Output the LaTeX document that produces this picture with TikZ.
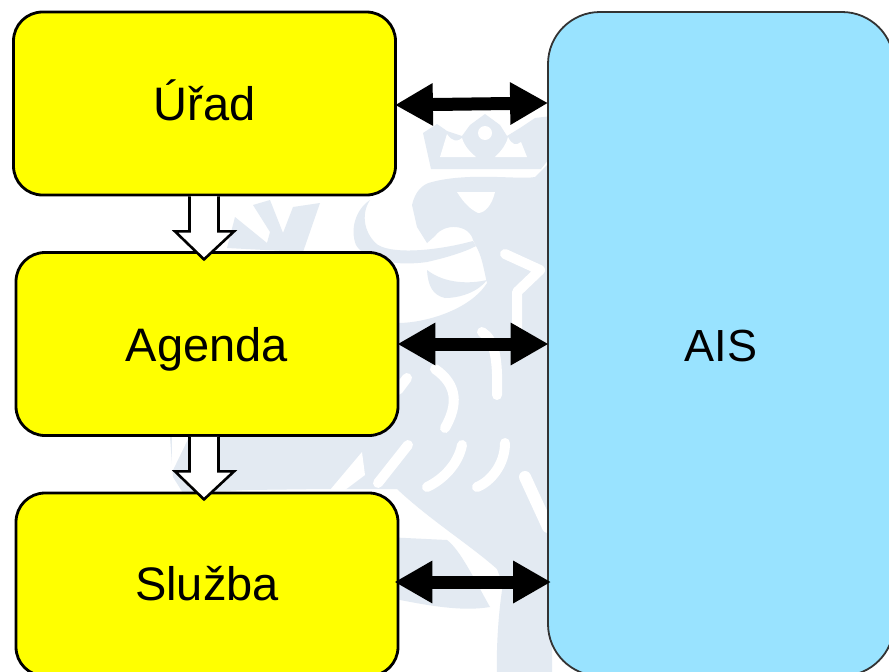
\documentclass[tikz,border=0pt]{standalone}
\usepackage{fontspec}
\setmainfont{Liberation Sans}
\usetikzlibrary{arrows.meta,calc}
\definecolor{wm}{HTML}{E3EAF2}
\definecolor{boxyellow}{HTML}{FFFF00}
\definecolor{aisblue}{HTML}{99E3FF}
\tikzset{
  office/.style={draw=black,line width=2.8pt,fill=boxyellow,rounded corners=29pt,minimum width=382pt,minimum height=183pt,inner sep=0pt,text height=34pt,text depth=0pt,font=\fontsize{47}{50}\selectfont},
  sysbox/.style={draw=black!80,line width=1.8pt,fill=aisblue,rounded corners=52pt,minimum width=346pt,minimum height=664pt,inner sep=0pt,text height=34pt,text depth=0pt,font=\fontsize{45}{50}\selectfont},
  bothways/.style={line width=13pt,{Triangle[length=38pt,width=40pt]}-{Triangle[length=38pt,width=40pt]}},
  downarrow/.style={draw=black,line width=2.6pt,fill=white,line join=miter},
  wmline/.style={draw=white,line width=10pt,line cap=round,line join=round},
  wmfill/.style={fill=wm,draw=none}
}
\begin{document}
\begin{tikzpicture}[x=1pt,y=-1pt]
\useasboundingbox (0,0) rectangle (889,672);
\clip (0,0) rectangle (889,672);
\fill[white] (0,0) rectangle (889,672);
% watermark: crown
\fill[wmfill] (423,133) -- (437,124) -- (447,131) -- (462,136) -- (470,125) -- (485,114) -- (500,125) -- (507,136) -- (520,128) -- (535,118) -- (552,116) -- (552,155) -- (541,169) -- (431,169) -- cycle;
\fill[white] (440,157) -- (447,134) .. controls (452,142) and (458,142) .. (462,138) .. controls (465,147) and (470,152) .. (476,157) -- cycle;
\fill[white] (495,157) .. controls (502,150) and (506,145) .. (508,137) .. controls (512,145) and (516,146) .. (521,142) -- (527,157) -- cycle;
\fill[white] (485,133) circle (7);
% watermark: body
\fill[wmfill] (412,205) .. controls (415,192) and (422,184) .. (432,182) .. controls (470,172) and (520,180) .. (535,177) -- (552,160) -- (552,672) -- (497,672) .. controls (496,640) and (500,600) .. (503,585) -- (497,569) .. controls (470,545) and (430,520) .. (397,489) -- (325,489) -- (247,490) -- (183,493) -- (173,477) -- (170,437) -- (170,420) -- (380,420) -- (380,323) -- (398,323) .. controls (425,323) and (470,310) .. (487,283) .. controls (484,270) and (482,258) .. (478,250) -- (473,240) .. controls (470,225) and (445,222) .. (435,236) -- (427,243) -- (417,227) -- (412,205) -- cycle;
% watermark: band, tongue, foot, paw
\fill[wmfill] (370,200) .. controls (355,210) and (350,230) .. (356,245) .. controls (366,262) and (400,266) .. (427,262) .. controls (445,258) and (465,252) .. (476,246) -- (473,241) .. controls (440,250) and (395,255) .. (378,245) .. controls (365,235) and (360,215) .. (370,200) -- cycle;
\fill[wmfill] (427,270) .. controls (428,285) and (432,295) .. (445,298) .. controls (460,298) and (478,292) .. (487,280) .. controls (470,284) and (445,284) .. (427,270) -- cycle;
\fill[wmfill] (385,537) -- (447,540) .. controls (460,550) and (472,575) .. (490,607) .. controls (460,612) and (425,605) .. (385,597) -- cycle;
\fill[wmfill] (227,248) -- (235,217) -- (267,243) -- (270,232) -- (253,205) -- (270,200) -- (283,233) -- (293,207) -- (320,203) -- (303,252) -- cycle;
% watermark: white strokes
\fill[white] (457,192) -- (495,192) .. controls (492,205) and (485,213) .. (478,213) .. controls (472,210) and (465,205) .. (457,192) -- cycle;
\draw[wmline] (505,254) -- (540,270) -- (517,292) -- (517,330);
\draw[wmline] (482,332) .. controls (495,340) and (498,360) .. (497,395);
\draw[wmline] (435,369) .. controls (458,385) and (458,405) .. (445,428);
\draw[wmline] (407,378) -- (398,390);
\draw[wmline] (408,445) -- (378,483);
\draw[wmline] (462,445) .. controls (458,465) and (442,480) .. (427,487);
\draw[wmline] (505,443) .. controls (505,465) and (490,482) .. (477,487);
\draw[wmline,line width=12pt] (525,477) -- (548,527);
\fill[white] (330,490) -- (362,452) -- (365,475) -- (345,490) -- cycle;
\fill[white] (172,437) -- (189,437) -- (172,472) -- cycle;
% boxes
\node[office] (urad) at (204.5,103.5) {Úřad};
\node[office] (agenda) at (207,344) {Agenda};
\node[office,text height=31pt] (sluzba) at (207,584.5) {Služba};
\node[sysbox] (ais) at (721,344) {AIS};
% connectors
\draw[bothways] ($(urad.east)+(-2,1.5)$) -- ($(ais.west|-urad.east)+(1,-0.5)$);
\draw[bothways] ($(agenda.east)+(-2,0)$) -- ($(ais.west)+(1.5,0)$);
\draw[bothways] ($(sluzba.east)+(-5,-2.5)$) -- ($(ais.west|-sluzba.east)+(4,-2.5)$);
\draw[downarrow] ($(urad.south)+(-15,0)$) -- ++(0,35) -- ++(-14.5,0) -- ($(agenda.north|-urad.south)+(-3,63)$) -- ($(urad.south)+(29.5,35)$) -- ($(urad.south)+(14,35)$) -- ($(urad.south)+(14,0)$);
\draw[downarrow] ($(agenda.south)+(-17.5,0)$) -- ++(0,34.5) -- ++(-14.5,0) -- ($(agenda.south)+(-3,62.5)$) -- ($(agenda.south)+(27,34.5)$) -- ($(agenda.south)+(11.5,34.5)$) -- ($(agenda.south)+(11.5,0)$);
\end{tikzpicture}
\end{document}
